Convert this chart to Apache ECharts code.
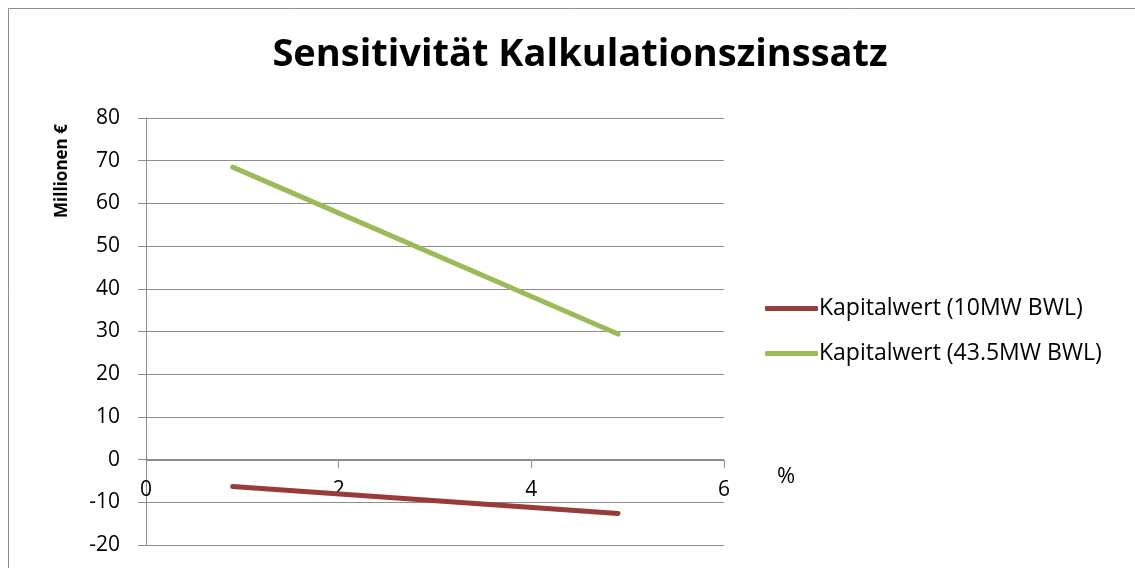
<!DOCTYPE html>
<html>
<head>
<meta charset="utf-8">
<script src="https://cdn.jsdelivr.net/npm/echarts@6/dist/echarts.min.js"></script>
<style>
  html, body { margin: 0; padding: 0; background: #fff; }
  #chart { width: 1135px; height: 568px; }
</style>
</head>
<body>
<div id="chart"></div>
<script>
// Zinssatz in %
const zinssatz = [0.9, 4.9];
// Kapitalwert in Millionen €
const kapitalwert10MW = [-6.3, -12.6];
const kapitalwert435MW = [68.5, 29.4];
const seriesNames = ['Kapitalwert (10MW BWL)', 'Kapitalwert (43.5MW BWL)'];
const seriesColors = ['#993B38', '#9BBB59'];

const font = 'Open Sans';
const gridColor = '#8C8C8C';

const chart = echarts.init(document.getElementById('chart'));

const option = {
  backgroundColor: '#fff',
  title: {
    text: 'Sensitivität Kalkulationszinssatz',
    left: 575,
    textAlign: 'center',
    top: 31,
    textStyle: { fontFamily: font, fontSize: 38, fontWeight: 'bold', color: '#000' }
  },
  legend: {
    orient: 'vertical',
    left: 760,
    top: 292,
    itemGap: 22,
    itemWidth: 53,
    itemHeight: 5,
    icon: 'roundRect',
    data: seriesNames,
    textStyle: { fontFamily: font, fontSize: 23, color: '#000', padding: [0, 0, 0, -4] }
  },
  grid: { left: 146, top: 118, right: 411, bottom: 23, outerBoundsMode: 'none' },
  xAxis: {
    type: 'value',
    min: 0,
    max: 6,
    interval: 2,
    offset: -85,
    name: '%',
    nameLocation: 'end',
    nameGap: 53,
    nameTextStyle: { fontFamily: font, fontSize: 22, color: '#000', verticalAlign: 'top', padding: [6, 0, 0, 0] },
    axisLine: { onZero: false, lineStyle: { color: gridColor, width: 1 } },
    axisTick: { show: true, length: 8, lineStyle: { color: gridColor } },
    axisLabel: { margin: 20, fontFamily: font, fontSize: 21, color: '#000' },
    splitLine: { show: false }
  },
  yAxis: {
    type: 'value',
    min: -20,
    max: 80,
    interval: 10,
    axisLine: { show: true, lineStyle: { color: gridColor, width: 1 } },
    axisTick: { show: true, length: 8, lineStyle: { color: gridColor } },
    axisLabel: { margin: 26, fontFamily: font, fontSize: 21, color: '#000' },
    splitLine: { show: true, lineStyle: { color: gridColor, width: 1 } }
  },
  graphic: [
    {
      type: 'rect',
      shape: { x: 8.5, y: 8.5, width: 1300, height: 700 },
      style: { fill: 'none', stroke: '#8C8C8C', lineWidth: 1 },
      silent: true,
      z: -1
    },
    {
      type: 'text',
      x: 62,
      y: 171,
      rotation: Math.PI / 2,
      style: {
        text: 'Millionen €',
        fontFamily: font,
        fontSize: 17,
        fontWeight: 'bold',
        fill: '#000',
        align: 'center',
        verticalAlign: 'middle'
      }
    }
  ],
  series: [
    {
      name: seriesNames[0],
      type: 'line',
      data: zinssatz.map((x, i) => [x, kapitalwert10MW[i]]),
      showSymbol: false,
      color: seriesColors[0],
      lineStyle: { width: 5, cap: 'round' }
    },
    {
      name: seriesNames[1],
      type: 'line',
      data: zinssatz.map((x, i) => [x, kapitalwert435MW[i]]),
      showSymbol: false,
      color: seriesColors[1],
      lineStyle: { width: 5, cap: 'round' }
    }
  ]
};

chart.setOption(option);
</script>
</body>
</html>
